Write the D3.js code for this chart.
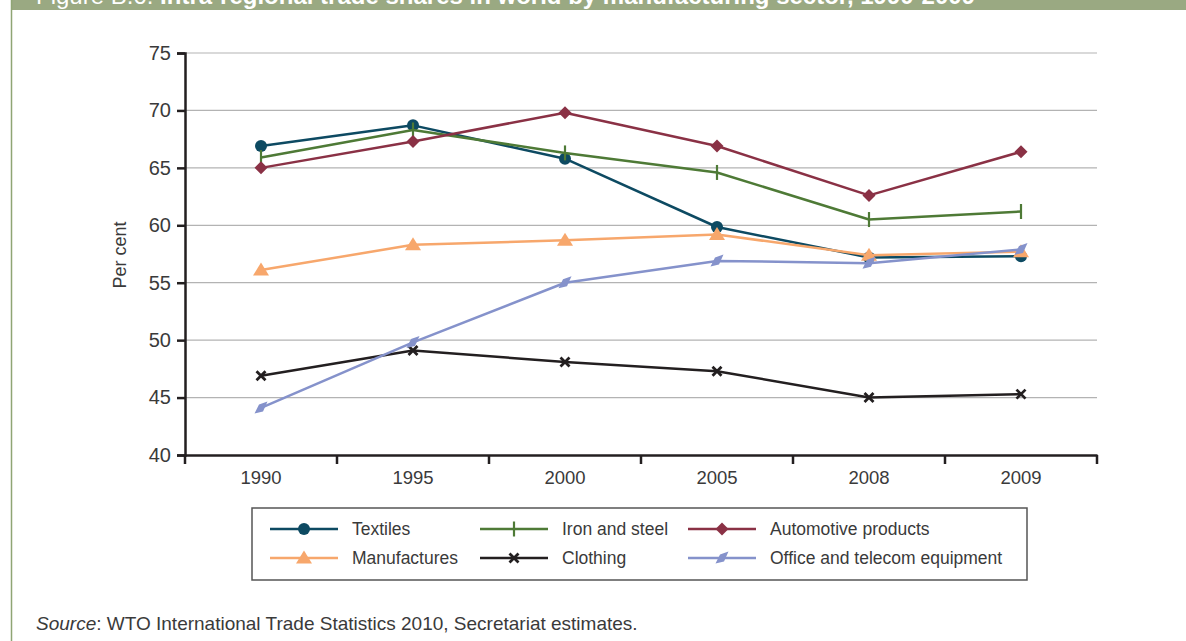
<!DOCTYPE html>
<html>
<head>
    <meta charset="utf-8">
    <title>Intra-regional trade shares</title>
    <script src="https://cdnjs.cloudflare.com/ajax/libs/d3/7.8.5/d3.min.js"></script>
    <style>
        html, body {
            margin: 0;
            padding: 0;
            background: #fff;
            font-family: 'Liberation Sans', Arial, sans-serif;
        }
    </style>
</head>
<body>
    <div id="chart"></div>
    <script>
        // data
        const years = ['1990', '1995', '2000', '2005', '2008', '2009'];
        const yTicks = [40, 45, 50, 55, 60, 65, 70, 75];

        const textiles = [66.9, 68.7, 65.8, 59.85, 57.2, 57.3];
        const ironSteel = [65.9, 68.3, 66.3, 64.6, 60.5, 61.2];
        const automotive = [65.0, 67.3, 69.8, 66.9, 62.6, 66.4];
        const manufactures = [56.1, 58.3, 58.7, 59.2, 57.4, 57.7];
        const clothing = [46.9, 49.1, 48.1, 47.3, 45.0, 45.3];
        const officeTelecom = [44.1, 49.8, 55.0, 56.9, 56.7, 57.9];

        const series = [
            { name: 'Textiles', values: textiles, color: '#0d4a62', marker: 'circle' },
            { name: 'Iron and steel', values: ironSteel, color: '#4e7a36', marker: 'bar' },
            { name: 'Automotive products', values: automotive, color: '#8a3145', marker: 'diamond' },
            { name: 'Manufactures', values: manufactures, color: '#f7a76c', marker: 'triangle' },
            { name: 'Clothing', values: clothing, color: '#231f20', marker: 'cross' },
            { name: 'Office and telecom equipment', values: officeTelecom, color: '#8592cb', marker: 'skew' }
        ];

        const W = 1186, H = 641;
        const svg = d3.select('#chart').append('svg')
            .attr('width', W).attr('height', H);

        // header band + frame line
        svg.append('rect').attr('x', 11).attr('y', 0).attr('width', W - 11).attr('height', 10)
            .attr('fill', '#9aa982');
        svg.append('line').attr('x1', 11.5).attr('x2', 11.5).attr('y1', 0).attr('y2', H)
            .attr('stroke', '#8fa574').attr('stroke-width', 1.5);
        const title = svg.append('text').attr('x', 36).attr('y', 4)
            .attr('fill', '#fff').style('font-size', '24px');
        title.append('tspan').style('font-weight', 300).text('Figure B.6: ');
        title.append('tspan').style('font-weight', 'bold')
            .text('Intra-regional trade shares in world by manufacturing sector, 1990-2009');

        const x = d3.scaleBand().domain(years).range([185, 1097]);
        const y = d3.scaleLinear().domain([40, 75]).range([455, 53]);
        const cx = d => x(d) + x.bandwidth() / 2;

        // gridlines
        svg.append('g').selectAll('line').data(yTicks.slice(1)).join('line')
            .attr('x1', 185).attr('x2', 1097)
            .attr('y1', d => y(d)).attr('y2', d => y(d))
            .attr('stroke', '#b3b3b3').attr('stroke-width', 1.2);

        // y axis
        const yAxis = svg.append('g').attr('transform', 'translate(185,0)')
            .call(d3.axisLeft(y).tickValues(yTicks).tickSize(8).tickPadding(6));
        yAxis.select('.domain').attr('stroke', '#231f20').attr('stroke-width', 2.5);
        yAxis.selectAll('.tick line').attr('stroke', '#231f20').attr('stroke-width', 2.5);
        yAxis.selectAll('.tick text').attr('fill', '#3a3a3a')
            .style('font-size', '20px').style('font-family', "'Liberation Sans', Arial, sans-serif");

        // x axis: labels centred, ticks on band boundaries
        const xAxis = svg.append('g').attr('transform', 'translate(0,455)')
            .call(d3.axisBottom(x).tickSize(0).tickPadding(16));
        xAxis.select('.domain').attr('stroke', '#231f20').attr('stroke-width', 2.5);
        xAxis.selectAll('.tick text').attr('fill', '#3a3a3a')
            .style('font-size', '18.5px').style('font-family', "'Liberation Sans', Arial, sans-serif");
        const bounds = years.map(d => x(d)).concat([x.range()[1]]);
        xAxis.selectAll('.bound').data(bounds).join('line').attr('class', 'bound')
            .attr('x1', d => d).attr('x2', d => d).attr('y1', 0).attr('y2', 9)
            .attr('stroke', '#231f20').attr('stroke-width', 2.5);

        svg.append('text')
            .attr('transform', 'translate(126,255) rotate(-90)')
            .attr('text-anchor', 'middle')
            .attr('fill', '#3a3a3a').style('font-size', '18px')
            .text('Per cent');

        function drawMarker(g, type, color) {
            if (type === 'circle') {
                g.append('circle').attr('r', 6).attr('fill', color);
            } else if (type === 'bar') {
                g.append('line').attr('y1', -7.5).attr('y2', 7.5)
                    .attr('stroke', color).attr('stroke-width', 2.2);
            } else if (type === 'diamond') {
                g.append('path').attr('d', 'M0,-6.5L6.5,0L0,6.5L-6.5,0Z').attr('fill', color);
            } else if (type === 'triangle') {
                g.append('path').attr('d', 'M0,-7.5L8,5.5L-8,5.5Z').attr('fill', color);
            } else if (type === 'cross') {
                g.append('path').attr('d', 'M-4.5,-4.5L4.5,4.5M4.5,-4.5L-4.5,4.5')
                    .attr('stroke', color).attr('stroke-width', 2.8);
            } else if (type === 'skew') {
                g.append('path').attr('d', 'M-6.5,5.5L-2,-3.5L6.5,-6.5L2,3.5Z').attr('fill', color);
            }
        }

        const line = d3.line().x((d, i) => cx(years[i])).y(d => y(d));

        series.forEach(s => {
            const g = svg.append('g');
            g.append('path').datum(s.values)
                .attr('d', line).attr('fill', 'none')
                .attr('stroke', s.color).attr('stroke-width', 2.5)
                .attr('stroke-linejoin', 'round');
            s.values.forEach((v, i) => {
                const m = g.append('g').attr('transform', `translate(${cx(years[i])},${y(v)})`);
                drawMarker(m, s.marker, s.color);
            });
        });

        // legend
        const legend = svg.append('g');
        legend.append('rect').attr('x', 252).attr('y', 508).attr('width', 775).attr('height', 72)
            .attr('fill', '#fff').attr('stroke', '#555').attr('stroke-width', 1.5);
        const colX = [270, 480, 688];
        const rowY = [529, 558];
        series.forEach((s, i) => {
            const lx = colX[i % 3], ly = rowY[Math.floor(i / 3)];
            const g = legend.append('g');
            g.append('line').attr('x1', lx).attr('x2', lx + 68).attr('y1', ly).attr('y2', ly)
                .attr('stroke', s.color).attr('stroke-width', 2.5);
            const m = g.append('g').attr('transform', `translate(${lx + 34},${ly})`);
            drawMarker(m, s.marker, s.color);
            g.append('text').attr('x', lx + 82).attr('y', ly + 6)
                .attr('fill', '#3a3a3a').style('font-size', '17.5px')
                .text(s.name);
        });

        // source note
        const src = svg.append('text').attr('x', 36).attr('y', 630)
            .attr('fill', '#3a3a3a').style('font-size', '19px');
        src.append('tspan').style('font-style', 'italic').text('Source');
        src.append('tspan').text(': WTO International Trade Statistics 2010, Secretariat estimates.');
    </script>
</body>
</html>
